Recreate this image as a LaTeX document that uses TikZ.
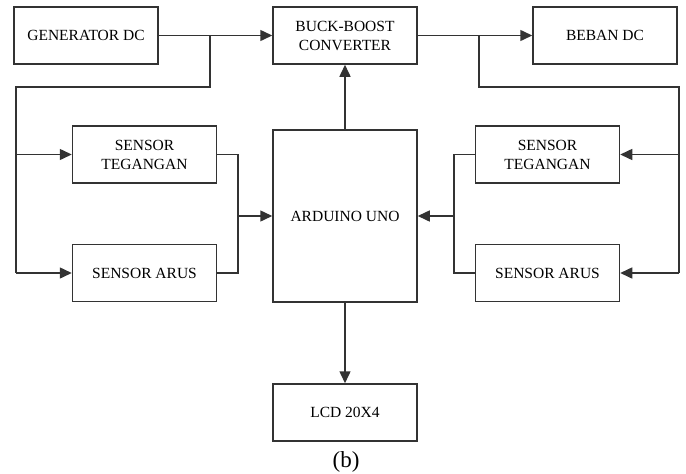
\documentclass[tikz,border=0pt]{standalone}
\usepackage{fontspec}
\setmainfont{Liberation Serif}
\usetikzlibrary{arrows.meta}
\begin{document}
\begin{tikzpicture}[x=1pt,y=-1pt,
  blk/.style={draw=black!80, line width=1.5pt, fill=white, minimum width=144pt, minimum height=57pt, inner sep=0pt, align=center, font=\fontsize{15.5}{19}\selectfont},
  conn/.style={draw=black!80, line width=1.5pt},
  arr/.style={conn, -{Triangle[length=12pt,width=11pt]}}]
\useasboundingbox (0,0) rectangle (686,474);
\node[blk] (gen) at (86,35.5) {GENERATOR DC};
\node[blk] (buck) at (345,35.5) {BUCK-BOOST\\CONVERTER};
\node[blk] (beban) at (605,35.5) {BEBAN DC};
\node[blk] (stL) at (144.5,154.5) {SENSOR\\TEGANGAN};
\node[blk] (saL) at (144.5,273) {SENSOR ARUS};
\node[blk, minimum height=172pt] (ard) at (345,216) {ARDUINO UNO};
\node[blk] (stR) at (547.5,154.5) {SENSOR\\TEGANGAN};
\node[blk] (saR) at (547.5,273) {SENSOR ARUS};
\node[blk] (lcd) at (345,412.5) {LCD 20X4};
\node[font=\fontsize{23}{26}\selectfont, inner sep=0pt] (cap) at (346,462) {(b)};
% left side
\coordinate (jg) at (210,35.5);
\coordinate (l1) at (210,87);
\coordinate (l2) at (16,87);
\coordinate (l3) at (16,154.5);
\coordinate (l4) at (16,273);
\draw[arr] (gen.east) -- (buck.west);
\draw[conn] (jg) -- (l1) -- (l2) -- (l4);
\draw[arr] (l3) -- (stL.west);
\draw[arr] (l4) -- (saL.west);
\coordinate (m1) at (238,154.5);
\coordinate (m2) at (238,273);
\coordinate (m3) at (238,216);
\draw[conn] (stL.east) -- (m1) -- (m2) -- (saL.east);
\draw[arr] (m3) -- (ard.west);
% center
\draw[arr] (ard.north) -- (buck.south);
\draw[arr] (ard.south) -- (lcd.north);
% right side
\draw[arr] (buck.east) -- (beban.west);
\coordinate (jb) at (479,35.5);
\coordinate (r1) at (479,87);
\coordinate (r2) at (679,87);
\coordinate (r3) at (679,154.5);
\coordinate (r4) at (679,273);
\draw[conn] (jb) -- (r1) -- (r2) -- (r4);
\draw[arr] (r3) -- (stR.east);
\draw[arr] (r4) -- (saR.east);
\coordinate (n1) at (454,154.5);
\coordinate (n2) at (454,273);
\coordinate (n3) at (454,216);
\draw[conn] (stR.west) -- (n1) -- (n2) -- (saR.west);
\draw[arr] (n3) -- (ard.east);
\end{tikzpicture}
\end{document}
